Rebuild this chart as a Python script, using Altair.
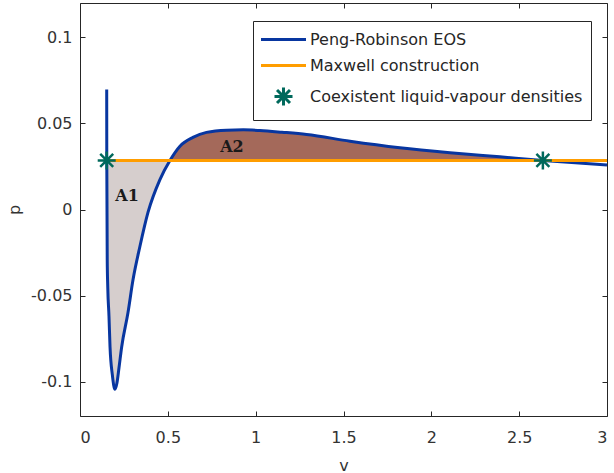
import altair as alt
import pandas as pd

# ---- data ----
v_curve = [0.152, 0.1525, 0.155, 0.158, 0.165, 0.171, 0.184, 0.199, 0.210, 0.222,
           0.237, 0.273, 0.302, 0.341, 0.387, 0.455, 0.512, 0.569, 0.643, 0.720,
           0.835, 0.930, 1.024, 1.150, 1.290, 1.537, 1.821, 2.106, 2.390, 2.635,
           2.960, 3.000]
p_curve = [0.0698, 0.0285, -0.0290, -0.0450, -0.0620, -0.0800, -0.0960, -0.1045, -0.1010, -0.0920,
           -0.0800, -0.0600, -0.0407, -0.0215, -0.0017, 0.0174, 0.0285, 0.0368, 0.0419, 0.0448,
           0.0461, 0.0463, 0.0459, 0.0449, 0.0436, 0.0397, 0.0359, 0.0330, 0.0306, 0.0285,
           0.0262, 0.0259]
p_sat = 0.0285
maxwell_v = [0.152, 3.0]
star_v = [0.152, 2.635]
star_p = [0.0285, 0.0285]
a1_range = [0.1525, 0.512]
a2_range = [0.512, 2.635]
label_text = ["A1", "A2"]
label_v = [0.2675, 0.865]
label_p = [0.0076, 0.0366]
series_names = ["Peng-Robinson EOS", "Maxwell construction",
                "Coexistent liquid-vapour densities"]
x_ticks = [0, 0.5, 1, 1.5, 2, 2.5, 3]
y_ticks = [-0.1, -0.05, 0, 0.05, 0.1]

# ---- styles ----
BLUE = "#0836A0"
ORANGE = "#FF9D00"
TEAL = "#00695C"
A1_FILL = "#D6CECD"
A2_FILL = "#A4695A"
AX = "#262626"
LAB = "#333333"
FONT = "DejaVu Sans"

LINE_PATH = "M-2.5,0L2.5,0"
STAR_PATH = "M0,-1L0,1M-1,0L1,0M-0.72,-0.72L0.72,0.72M-0.72,0.72L0.72,-0.72"

curve = pd.DataFrame({"v": v_curve, "p": p_curve, "i": list(range(len(v_curve)))})
curve["ps"] = p_sat
a1 = curve[(curve.v >= a1_range[0]) & (curve.v <= a1_range[1])]
a2 = curve[(curve.v >= a2_range[0]) & (curve.v <= a2_range[1])]
maxwell = pd.DataFrame({"v": maxwell_v, "p": [p_sat] * len(maxwell_v)})
stars = pd.DataFrame({"v": star_v, "p": star_p, "series": [series_names[2]] * len(star_v)})
labels = pd.DataFrame({"v": label_v, "p": label_p, "t": label_text})

xs = alt.Scale(domain=[0, 3], nice=False, zero=False)
ys = alt.Scale(domain=[-0.12, 0.12], nice=False, zero=False)

y_label_expr = "replace(format(datum.value, '~g'), '\u2212', '-')"

main_x_axis = alt.Axis(values=x_ticks, format="~g", ticks=False, tickSize=0, domain=False,
                       grid=False, labelFont=FONT, labelFontSize=16, labelColor=LAB,
                       labelPadding=13, title="v", titleFont=FONT, titleFontSize=16,
                       titleFontWeight="normal", titleColor=LAB, titleBaseline="alphabetic",
                       titleY=54)
main_y_axis = alt.Axis(values=y_ticks, labelExpr=y_label_expr, ticks=False, tickSize=0,
                       domain=False, grid=False, labelFont=FONT, labelFontSize=16,
                       labelColor=LAB, labelPadding=8, title="p", titleFont=FONT,
                       titleFontSize=16, titleFontWeight="normal", titleColor=LAB,
                       titleBaseline="alphabetic", titleX=-61)


def tick_axis(values, orient):
    return alt.Axis(values=values, orient=orient, offset=-5, tickSize=5, ticks=True,
                    tickColor=AX, tickWidth=1, labels=False, domain=False, grid=False,
                    title=None)


area1 = alt.Chart(a1).mark_area(color=A1_FILL, opacity=1, interpolate="monotone").encode(
    x=alt.X("v:Q", scale=xs, axis=tick_axis(x_ticks, "bottom")),
    y=alt.Y("p:Q", scale=ys, axis=tick_axis(y_ticks, "left")),
    y2="ps:Q",
)
area2 = alt.Chart(a2).mark_area(color=A2_FILL, opacity=1, interpolate="monotone").encode(
    x=alt.X("v:Q", scale=xs, axis=tick_axis(x_ticks, "top")),
    y=alt.Y("p:Q", scale=ys, axis=tick_axis(y_ticks, "right")),
    y2="ps:Q",
)
line = alt.Chart(curve).mark_line(color=BLUE, strokeWidth=3, interpolate="monotone").encode(
    x=alt.X("v:Q", scale=xs, axis=main_x_axis),
    y=alt.Y("p:Q", scale=ys, axis=main_y_axis),
    order="i:Q",
)
mx = alt.Chart(maxwell).mark_line(color=ORANGE, strokeWidth=3).encode(
    x=alt.X("v:Q", scale=xs, axis=None),
    y=alt.Y("p:Q", scale=ys, axis=None),
)
legend = alt.Legend(title=None, orient="none", legendX=173, legendY=18,
                    strokeColor=AX, fillColor="white", padding=8, cornerRadius=0,
                    labelFont=FONT, labelFontSize=16, labelColor=AX,
                    symbolSize=324, symbolStrokeWidth=3, symbolOffset=12,
                    labelOffset=16, rowPadding=7, labelLimit=400)
pts = alt.Chart(stars).mark_point(filled=False, size=324, strokeWidth=2.5, opacity=1).encode(
    x=alt.X("v:Q", scale=xs, axis=None),
    y=alt.Y("p:Q", scale=ys, axis=None),
    color=alt.Color("series:N", scale=alt.Scale(domain=series_names,
                                                range=[BLUE, ORANGE, TEAL]),
                    legend=legend),
    shape=alt.Shape("series:N", scale=alt.Scale(domain=series_names,
                                                range=[LINE_PATH, LINE_PATH, STAR_PATH]),
                    legend=legend),
)
txt = alt.Chart(labels).mark_text(font="DejaVu Serif", fontWeight="bold", fontSize=16,
                                  color="#1A1A1A", align="center", baseline="middle").encode(
    x=alt.X("v:Q", scale=xs, axis=None),
    y=alt.Y("p:Q", scale=ys, axis=None),
    text="t:N",
)

chart = alt.layer(area1, area2, line, mx, pts, txt).resolve_axis(
    x="independent", y="independent"
).properties(
    width=527, height=413,
    padding={"left": 80, "top": 3, "right": 7, "bottom": 57},
    autosize=alt.AutoSizeParams(type="none"),
    background="white",
).configure_view(stroke=AX, strokeWidth=1)

chart.save("out.html", embed_options={"renderer": "svg", "actions": False})
